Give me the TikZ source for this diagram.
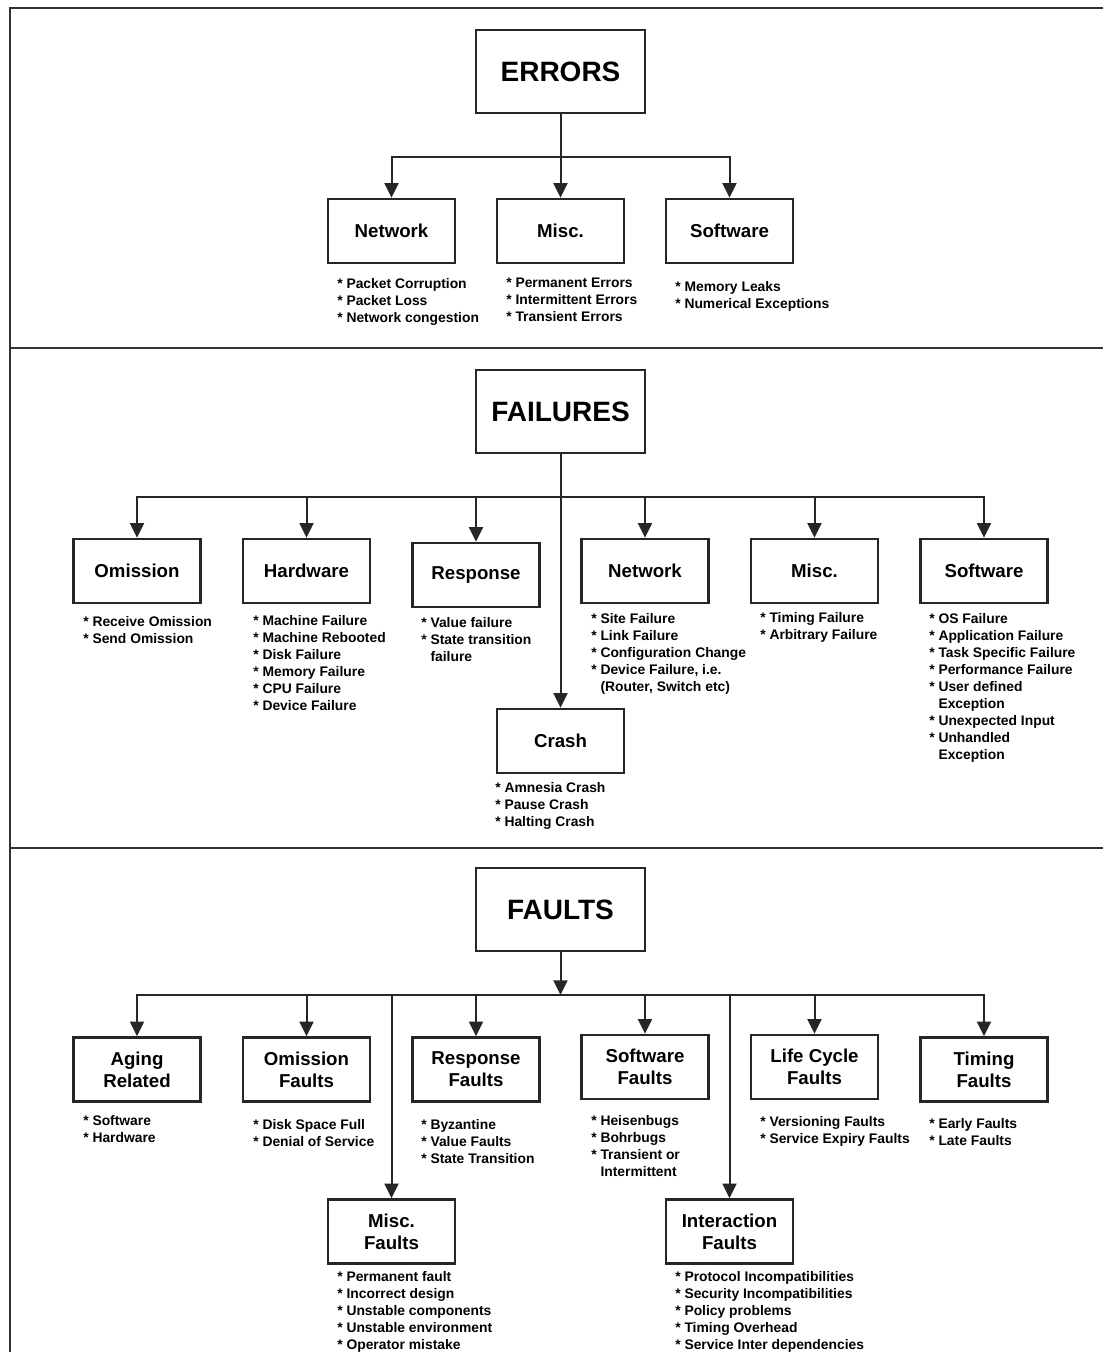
\documentclass[tikz,border=0pt]{standalone}
\usepackage{fontspec}
\setmainfont{Liberation Sans}
\usetikzlibrary{arrows.meta}
\begin{document}
\begin{tikzpicture}[x=0.75pt,y=-0.75pt,
  box/.style={draw=black!85, line width=1.9pt, minimum width=95.25pt, minimum height=48pt, inner sep=0pt, align=center, font=\fontsize{14}{16.5}\selectfont\bfseries},
  topbox/.style={draw=black!85, line width=1.9pt, minimum width=126.75pt, minimum height=62.25pt, inner sep=0pt, font=\fontsize{21}{25}\selectfont\bfseries},
  lst/.style={anchor=north west, inner sep=0pt, align=left, font=\fontsize{10.4}{12.75}\selectfont\bfseries},
  arr/.style={draw=black!85, line width=1.5pt, -{Triangle[width=10.5pt,length=11pt]}},
  frame/.style={draw=black!80, line width=2.2pt}]
\useasboundingbox (0,0) rectangle (1103,1352);
% frame
\draw[frame] (1103,8) -- (10,8) -- (10,1352);
\draw[frame] (10,348) -- (1103,348);
\draw[frame] (10,848) -- (1103,848);

% ===== ERRORS =====
\node[topbox] (errors) at (560.5,71.5) {ERRORS};
\node[box] (enet) at (391.5,231) {Network};
\node[box] (emisc) at (560.5,231) {Misc.};
\node[box] (esoft) at (729.5,231) {Software};
\coordinate (eb) at (560.5,157);
\draw[arr] (errors) -- (emisc);
\draw[arr] (eb) -| (enet.north);
\draw[arr] (eb) -| (esoft.north);
\node[lst] (enetl) at (337,278) {* Packet Corruption\\* Packet Loss\\* Network congestion};
\node[lst] (emiscl) at (506,278) {* Permanent Errors\\* Intermittent Errors\\* Transient Errors};
\node[lst] (esoftl) at (675,281) {* Memory Leaks\\* Numerical Exceptions};

% ===== FAILURES =====
\node[topbox] (failures) at (560.5,411.5) {FAILURES};
\node[box] (fomi) at (137,571) {Omission};
\node[box] (fhw) at (306.5,571) {Hardware};
\node[box] (fresp) at (476,575) {Response};
\node[box] (fnet) at (645,571) {Network};
\node[box] (fmisc) at (814.5,571) {Misc.};
\node[box] (fsoft) at (984,571) {Software};
\node[box] (fcrash) at (560.5,741) {Crash};
\coordinate (fb) at (560.5,497);
\draw[arr] (failures) -- (fcrash);
\draw[arr] (fb) -| (fomi.north);
\draw[arr] (fb) -| (fhw.north);
\draw[arr] (fb) -| (fresp.north);
\draw[arr] (fb) -| (fnet.north);
\draw[arr] (fb) -| (fmisc.north);
\draw[arr] (fb) -| (fsoft.north);
\node[lst] (fomil) at (83,616) {* Receive Omission\\* Send Omission};
\node[lst] (fhwl) at (253,615) {* Machine Failure\\* Machine Rebooted\\* Disk Failure\\* Memory Failure\\* CPU Failure\\* Device Failure};
\node[lst] (frespl) at (421,617) {* Value failure\\* State transition\\\phantom{* }failure};
\node[lst] (fnetl) at (591,613) {* Site Failure\\* Link Failure\\* Configuration Change\\* Device Failure, i.e.\\\phantom{* }(Router, Switch etc)};
\node[lst] (fmiscl) at (760,612) {* Timing Failure\\* Arbitrary Failure};
\node[lst] (fsoftl) at (929,613) {* OS Failure\\* Application Failure\\* Task Specific Failure\\* Performance Failure\\* User defined\\\phantom{* }Exception\\* Unexpected Input\\* Unhandled\\\phantom{* }Exception};
\node[lst] (fcrashl) at (495,782) {* Amnesia Crash\\* Pause Crash\\* Halting Crash};

% ===== FAULTS =====
\node[topbox] (faults) at (560.5,909.5) {FAULTS};
\coordinate (tb) at (560.5,995);
\node[box] (tage) at (137,1069.5) {Aging\\Related};
\node[box] (tomi) at (306.5,1069.5) {Omission\\Faults};
\node[box] (tresp) at (476,1069.5) {Response\\Faults};
\node[box] (tsoft) at (645,1067) {Software\\Faults};
\node[box] (tlife) at (814.5,1067) {Life Cycle\\Faults};
\node[box] (ttim) at (984,1069.5) {Timing\\Faults};
\node[box] (tmisc) at (391.5,1231.5) {Misc.\\Faults};
\node[box] (tint) at (729.5,1231.5) {Interaction\\Faults};
\draw[arr] (faults) -- (tb);
\draw[arr] (tb) -| (tage.north);
\draw[arr] (tb) -| (tomi.north);
\draw[arr] (tb) -| (tresp.north);
\draw[arr] (tb) -| (tsoft.north);
\draw[arr] (tb) -| (tlife.north);
\draw[arr] (tb) -| (ttim.north);
\draw[arr] (tb) -| (tmisc.north);
\draw[arr] (tb) -| (tint.north);
\node[lst] (tagel) at (83,1115) {* Software\\* Hardware};
\node[lst] (tomil) at (253,1119) {* Disk Space Full\\* Denial of Service};
\node[lst] (trespl) at (421,1119) {* Byzantine\\* Value Faults\\* State Transition};
\node[lst] (tsoftl) at (591,1115) {* Heisenbugs\\* Bohrbugs\\* Transient or\\\phantom{* }Intermittent};
\node[lst] (tlifel) at (760,1116) {* Versioning Faults\\* Service Expiry Faults};
\node[lst] (ttiml) at (929,1118) {* Early Faults\\* Late Faults};
\node[lst] (tmiscl) at (337,1271) {* Permanent fault\\* Incorrect design\\* Unstable components\\* Unstable environment\\* Operator mistake};
\node[lst] (tintl) at (675,1271) {* Protocol Incompatibilities\\* Security Incompatibilities\\* Policy problems\\* Timing Overhead\\* Service Inter dependencies};
\end{tikzpicture}
\end{document}
